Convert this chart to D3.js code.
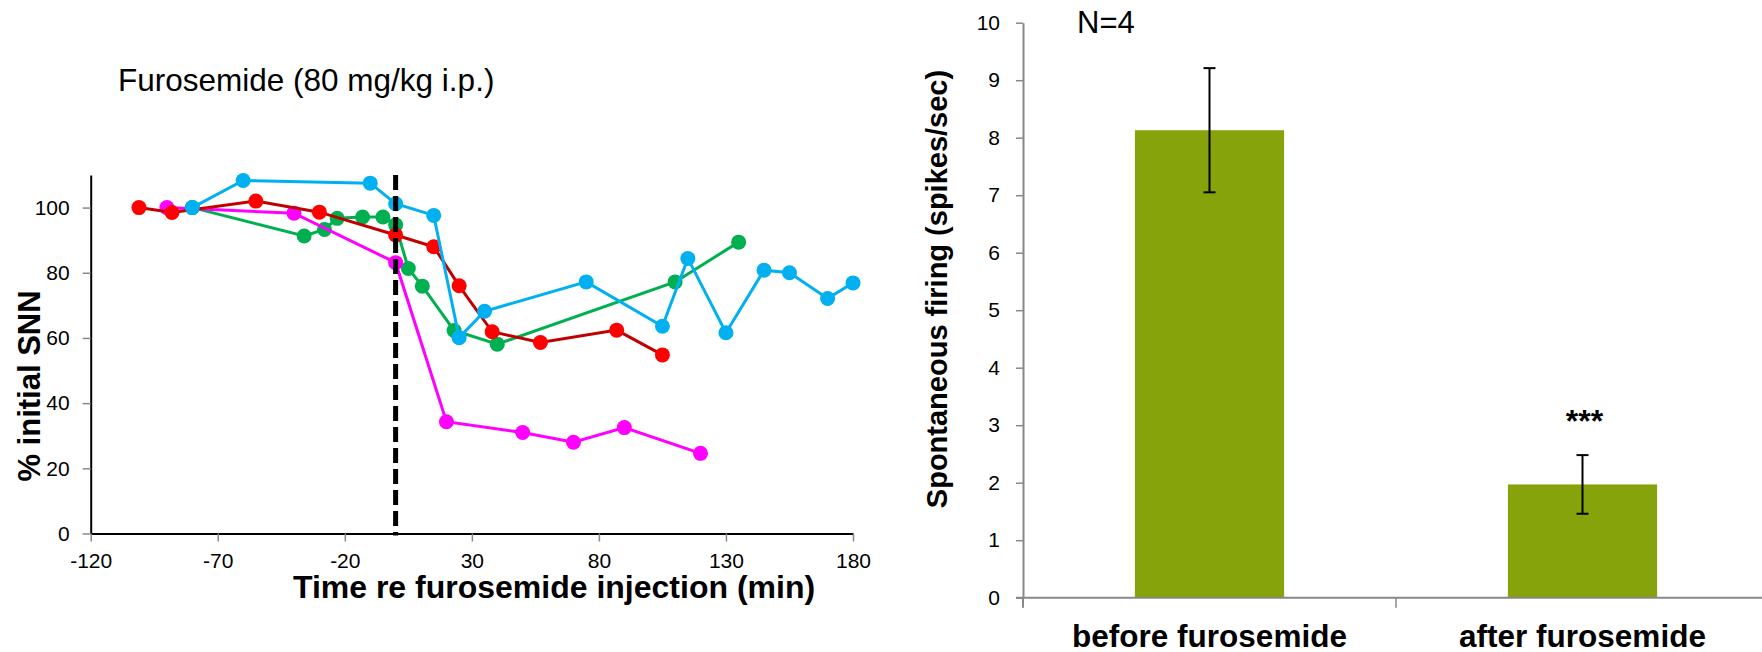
<!DOCTYPE html>
<html>
<head>
<meta charset="utf-8">
<script src="https://cdn.jsdelivr.net/npm/d3@7"></script>
<style>
  html, body { margin: 0; padding: 0; background: #fff; }
  svg { display: block; font-family: "Liberation Sans", Arial, sans-serif; }
</style>
</head>
<body>
<svg id="chart" width="1762" height="652"></svg>
<script>
// ---------- Left panel data ----------
const seriesNames = ["green", "magenta", "red", "cyan"];
const greenT   = [-80, -36, -28, -23, -13, -5, 0, 5, 10.5, 23, 40, 110, 135];
const greenV   = [100, 91.3, 93.3, 96.7, 97.1, 97.1, 94.7, 81.3, 75.9, 62.3, 58.1, 77.2, 89.4];
const magentaT = [-90, -40, 0, 20, 50, 70, 90, 120];
const magentaV = [100, 98.3, 83.1, 34.3, 31, 28, 32.5, 24.6];
const redT     = [-101, -88, -55, -30, 0, 15, 25, 38, 57, 87, 105];
const redV     = [100, 98.5, 102, 98.6, 91.6, 88, 76, 61.9, 58.6, 62.4, 54.8];
const cyanT    = [-80, -60, -10, 0, 15, 25, 35, 75, 105, 115, 130, 145, 155, 170, 180];
const cyanV    = [100, 108.3, 107.5, 101.2, 97.6, 60.1, 68.2, 77.2, 63.6, 84.4, 61.6, 80.8, 80, 72.1, 76.9];
const injectionTime = 0;
const xTickValues = [-120, -70, -20, 30, 80, 130, 180];
const yTickValues = [0, 20, 40, 60, 80, 100];

// ---------- Right panel data ----------
const categories = ["before furosemide", "after furosemide"];
const means = [8.13, 1.97];
const errors = [1.08, 0.51];
const barTickValues = [0, 1, 2, 3, 4, 5, 6, 7, 8, 9, 10];

const svg = d3.select("#chart");
const plainFmt = d => String(d);

// ================= LEFT PANEL =================
const x = d3.scaleLinear().domain([-120, 180]).range([90.7, 853]);
const y = d3.scaleLinear().domain([0, 110]).range([533.5, 175]);

const styles = {
  green:   { line: "#00B050", dot: "#00B050" },
  magenta: { line: "#FF00FF", dot: "#FF00FF" },
  red:     { line: "#C00000", dot: "#FF0000" },
  cyan:    { line: "#00B0F0", dot: "#00B0F0" }
};
const seriesData = {
  green: greenT.map((t, i) => ({ t, v: greenV[i] })),
  magenta: magentaT.map((t, i) => ({ t, v: magentaV[i] })),
  red: redT.map((t, i) => ({ t, v: redV[i] })),
  cyan: cyanT.map((t, i) => ({ t, v: cyanV[i] }))
};

// y axis
const yAxisL = d3.axisLeft(y).tickValues(yTickValues).tickFormat(plainFmt).tickSize(8).tickPadding(13).tickSizeOuter(0);
const gyL = svg.append("g").attr("transform", `translate(${x.range()[0]},0)`).call(yAxisL);
gyL.select(".domain").attr("stroke", "#000").attr("stroke-width", 2);
gyL.selectAll(".tick line").attr("stroke", "#888").attr("stroke-width", 1.5);
gyL.selectAll(".tick text").attr("fill", "#000").style("font-size", "21px").style("font-family", "'Liberation Sans', Arial, sans-serif");

// x axis
const xAxisL = d3.axisBottom(x).tickValues(xTickValues).tickFormat(plainFmt).tickSize(8).tickPadding(12).tickSizeOuter(0);
const gxL = svg.append("g").attr("transform", `translate(0,${y(0)})`).call(xAxisL);
gxL.select(".domain").attr("stroke", "#000").attr("stroke-width", 2);
gxL.selectAll(".tick line").attr("stroke", "#888").attr("stroke-width", 1.5);
gxL.selectAll(".tick text").attr("fill", "#000").style("font-size", "21px").style("font-family", "'Liberation Sans', Arial, sans-serif");

// series
const line = d3.line().x(d => x(d.t)).y(d => y(d.v));
seriesNames.forEach(name => {
  const g = svg.append("g");
  g.append("path").datum(seriesData[name])
    .attr("d", line).attr("fill", "none")
    .attr("stroke", styles[name].line).attr("stroke-width", 3);
  g.selectAll("circle").data(seriesData[name]).enter().append("circle")
    .attr("cx", d => x(d.t)).attr("cy", d => y(d.v)).attr("r", 7.5)
    .attr("fill", styles[name].dot);
});

// injection dashed line
svg.append("line")
  .attr("x1", x(injectionTime)).attr("x2", x(injectionTime))
  .attr("y1", y(110)).attr("y2", y(0) + 2)
  .attr("stroke", "#000").attr("stroke-width", 5)
  .attr("stroke-dasharray", "15,6");

// titles
svg.append("text").attr("x", 118).attr("y", 91)
  .style("font-size", "31.5px").text("Furosemide (80 mg/kg i.p.)");
svg.append("text").attr("x", 554).attr("y", 598).attr("text-anchor", "middle")
  .style("font-size", "32px").style("font-weight", "bold")
  .text("Time re furosemide injection (min)");
svg.append("text").attr("transform", "translate(40,386) rotate(-90)").attr("text-anchor", "middle")
  .style("font-size", "31px").style("font-weight", "bold")
  .text("% initial SNN");

// ================= RIGHT PANEL =================
const y2 = d3.scaleLinear().domain([0, 10]).range([597.7, 22.7]);
const x2 = d3.scaleBand().domain(categories).range([1023, 1769]).paddingInner(0.6).paddingOuter(0.3);
const axisGrey = "#888";

// bars
svg.selectAll("rect.bar").data(categories).enter().append("rect")
  .attr("class", "bar")
  .attr("x", d => x2(d)).attr("width", x2.bandwidth())
  .attr("y", (d, i) => y2(means[i])).attr("height", (d, i) => y2(0) - y2(means[i]))
  .attr("fill", "#86A30B");

// y axis
const yAxisR = d3.axisLeft(y2).tickValues(barTickValues).tickFormat(plainFmt).tickSize(7).tickPadding(16).tickSizeOuter(0);
const gyR = svg.append("g").attr("transform", `translate(1023,0)`).call(yAxisR);
gyR.select(".domain").attr("stroke", axisGrey).attr("stroke-width", 2);
gyR.selectAll(".tick line").attr("stroke", axisGrey).attr("stroke-width", 1.5);
gyR.selectAll(".tick text").attr("fill", "#000").style("font-size", "21px").style("font-family", "'Liberation Sans', Arial, sans-serif");
// extension of y axis below zero
svg.append("line").attr("x1", 1023).attr("x2", 1023).attr("y1", y2(0)).attr("y2", y2(0) + 10)
  .attr("stroke", axisGrey).attr("stroke-width", 2);

// x axis line
svg.append("line").attr("x1", 1016).attr("x2", 1762).attr("y1", y2(0)).attr("y2", y2(0))
  .attr("stroke", axisGrey).attr("stroke-width", 2);
// category boundary ticks
const step = x2.step();
const boundaries = d3.range(1, categories.length).map(i => x2.range()[0] + i * step);
svg.selectAll("line.cattick").data(boundaries).enter().append("line")
  .attr("class", "cattick")
  .attr("x1", d => d).attr("x2", d => d).attr("y1", y2(0)).attr("y2", y2(0) + 10)
  .attr("stroke", axisGrey).attr("stroke-width", 1.5);

// category labels
svg.selectAll("text.cat").data(categories).enter().append("text")
  .attr("class", "cat")
  .attr("x", d => x2(d) + x2.bandwidth() / 2).attr("y", 646.5)
  .attr("text-anchor", "middle")
  .style("font-size", "31.5px").style("font-weight", "bold")
  .text(d => d);

// error bars
const eb = svg.selectAll("g.err").data(categories).enter().append("g").attr("class", "err");
eb.append("line")
  .attr("x1", d => x2(d) + x2.bandwidth() / 2).attr("x2", d => x2(d) + x2.bandwidth() / 2)
  .attr("y1", (d, i) => y2(means[i] + errors[i])).attr("y2", (d, i) => y2(means[i] - errors[i]))
  .attr("stroke", "#000").attr("stroke-width", 2);
[1, -1].forEach(sgn => {
  eb.append("line")
    .attr("x1", d => x2(d) + x2.bandwidth() / 2 - 6).attr("x2", d => x2(d) + x2.bandwidth() / 2 + 6)
    .attr("y1", (d, i) => y2(means[i] + sgn * errors[i])).attr("y2", (d, i) => y2(means[i] + sgn * errors[i]))
    .attr("stroke", "#000").attr("stroke-width", 2);
});

// significance
svg.append("text").attr("x", x2(categories[1]) + x2.bandwidth() / 2 + 2).attr("y", 432)
  .attr("text-anchor", "middle").style("font-size", "32px").style("font-weight", "bold").text("***");

// N=4
svg.append("text").attr("x", 1077).attr("y", 32.5).style("font-size", "31px").text("N=4");

// y title
svg.append("text").attr("transform", "translate(947,289) rotate(-90)").attr("text-anchor", "middle")
  .style("font-size", "29px").style("font-weight", "bold")
  .text("Spontaneous firing (spikes/sec)");
</script>
</body>
</html>
